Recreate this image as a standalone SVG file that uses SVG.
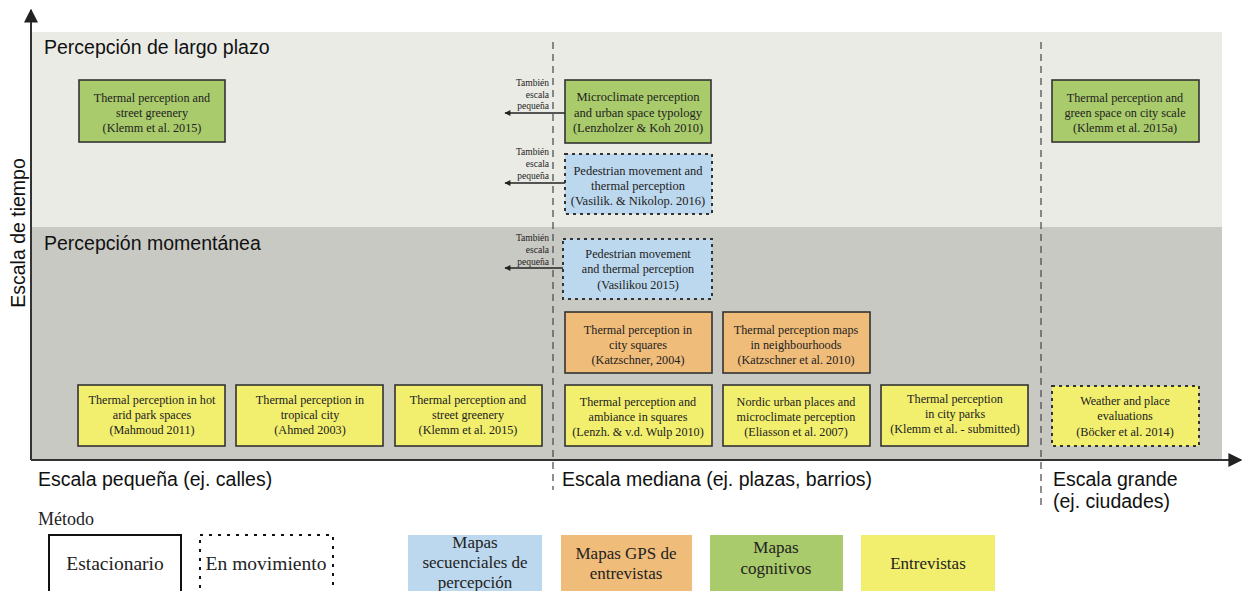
<svg xmlns="http://www.w3.org/2000/svg" width="1247" height="591" viewBox="0 0 1247 591">
<style>
.bx{stroke:#333;stroke-width:1.6}
.dsh{stroke:#333;stroke-width:2;stroke-dasharray:3 4}
.g{fill:#a9cb6b}.b{fill:#bcd8ee}.o{fill:#f0bc7a}.y{fill:#f2ef6e}
.t{font-family:"Liberation Serif","Times New Roman",serif;fill:#222;text-anchor:middle}
.s{font-size:12.2px}.m{font-size:12.5px}
.h{font-family:"Liberation Sans",Arial,sans-serif;fill:#111;font-size:19.5px}
.tb{font-family:"Liberation Serif","Times New Roman",serif;fill:#222;font-size:9.5px;text-anchor:end}
.lg{font-family:"Liberation Serif","Times New Roman",serif;fill:#222;font-size:17px;text-anchor:middle}
.ax{stroke:#333;stroke-width:2;fill:none}
.vd{stroke:#444;stroke-width:1.2;stroke-dasharray:7 5;fill:none}
.ar{stroke:#222;stroke-width:1.3;fill:none}
</style>
<defs>
<marker id="ah" viewBox="0 0 10 10" refX="9" refY="5" markerWidth="14" markerHeight="14" markerUnits="userSpaceOnUse" orient="auto"><path d="M0,0 L10,5 L0,10 z" fill="#222"/></marker>
<marker id="sh" viewBox="0 0 10 10" refX="9" refY="5" markerWidth="7" markerHeight="6" markerUnits="userSpaceOnUse" orient="auto"><path d="M0,0 L10,5 L0,10 z" fill="#222"/></marker>
</defs>
<rect width="1247" height="591" fill="#fff"/>
<g id="bands">
<rect x="31" y="32" width="1191" height="195" fill="#ebebe6"/>
<rect x="31" y="227" width="1191" height="233" fill="#c9c9c4"/>
<text class="h" x="44" y="54">Percepción de largo plazo</text>
<text class="h" x="44" y="250">Percepción momentánea</text>
</g>
<g id="axes">
<line class="vd" x1="553" y1="42" x2="553" y2="490"/>
<line class="vd" x1="1041" y1="42" x2="1041" y2="508"/>
<line class="ax" x1="31" y1="460" x2="31" y2="10" marker-end="url(#ah)"/>
<line class="ax" x1="31" y1="460" x2="1241" y2="460" marker-end="url(#ah)"/>
<text class="h" transform="translate(25,233) rotate(-90)" text-anchor="middle">Escala de tiempo</text>
<text class="h" x="38" y="486">Escala pequeña (ej. calles)</text>
<text class="h" x="562" y="486">Escala mediana (ej. plazas, barrios)</text>
<text class="h" x="1053" y="486">Escala grande</text>
<text class="h" x="1053" y="508">(ej. ciudades)</text>
</g>
<g id="connectors">
<line class="ar" x1="565" y1="113" x2="505" y2="113" marker-end="url(#sh)"/>
<line class="ar" x1="565" y1="183" x2="505" y2="183" marker-end="url(#sh)"/>
<line class="ar" x1="563" y1="268" x2="505" y2="268" marker-end="url(#sh)"/>
<text class="tb" x="549" y="86">También</text><text class="tb" x="549" y="98">escala</text><text class="tb" x="549" y="109">pequeña</text>
<text class="tb" x="549" y="155">También</text><text class="tb" x="549" y="167">escala</text><text class="tb" x="549" y="179">pequeña</text>
<text class="tb" x="549" y="241">También</text><text class="tb" x="549" y="253">escala</text><text class="tb" x="549" y="265">pequeña</text>
</g>
<g id="n1"><rect class="bx g" x="79" y="80" width="146" height="62"/><text class="t s" x="152" y="102">Thermal perception and</text><text class="t s" x="152" y="117">street greenery</text><text class="t s" x="152" y="132">(Klemm et al. 2015)</text></g>
<g id="n2"><rect class="bx g" x="565" y="80" width="146" height="63"/><text class="t m" x="638" y="101">Microclimate perception</text><text class="t m" x="638" y="117">and urban space typology</text><text class="t m" x="638" y="132">(Lenzholzer &amp; Koh 2010)</text></g>
<g id="n3"><rect class="dsh b" x="565" y="154" width="147" height="60"/><text class="t m" x="638" y="175">Pedestrian movement and</text><text class="t m" x="638" y="190">thermal perception</text><text class="t m" x="638" y="205">(Vasilik. &amp; Nikolop. 2016)</text></g>
<g id="n4"><rect class="bx g" x="1052" y="80" width="147" height="62"/><text class="t s" x="1125" y="102">Thermal perception and</text><text class="t s" x="1125" y="117">green space on city scale</text><text class="t s" x="1125" y="132">(Klemm et al. 2015a)</text></g>
<g id="n5"><rect class="dsh b" x="563" y="239" width="149" height="60"/><text class="t s" x="638" y="258">Pedestrian movement</text><text class="t s" x="638" y="273">and  thermal perception</text><text class="t s" x="638" y="289">(Vasilikou 2015)</text></g>
<g id="n6"><rect class="bx o" x="565" y="312" width="147" height="61"/><text class="t s" x="638" y="334">Thermal perception in</text><text class="t s" x="638" y="349">city squares</text><text class="t s" x="638" y="364">(Katzschner, 2004)</text></g>
<g id="n7"><rect class="bx o" x="723" y="312" width="147" height="61"/><text class="t s" x="796" y="334">Thermal perception maps</text><text class="t s" x="796" y="349">in neighbourhoods</text><text class="t s" x="796" y="364">(Katzschner et al. 2010)</text></g>
<g id="n8"><rect class="bx y" x="78" y="385" width="147" height="61"/><text class="t s" x="152" y="404">Thermal perception in hot</text><text class="t s" x="152" y="419">arid park spaces</text><text class="t s" x="152" y="434">(Mahmoud 2011)</text></g>
<g id="n9"><rect class="bx y" x="236" y="385" width="147" height="61"/><text class="t s" x="310" y="404">Thermal perception in</text><text class="t s" x="310" y="419">tropical city</text><text class="t s" x="310" y="434">(Ahmed 2003)</text></g>
<g id="n10"><rect class="bx y" x="395" y="385" width="147" height="61"/><text class="t s" x="468" y="404">Thermal perception and</text><text class="t s" x="468" y="419">street greenery</text><text class="t s" x="468" y="434">(Klemm et al. 2015)</text></g>
<g id="n11"><rect class="bx y" x="565" y="385" width="147" height="61"/><text class="t s" x="638" y="406">Thermal perception and</text><text class="t s" x="638" y="421">ambiance in squares</text><text class="t s" x="638" y="436">(Lenzh. &amp; v.d. Wulp 2010)</text></g>
<g id="n12"><rect class="bx y" x="723" y="385" width="147" height="61"/><text class="t s" x="796" y="406">Nordic urban places and</text><text class="t s" x="796" y="421">microclimate perception</text><text class="t s" x="796" y="436">(Eliasson et al. 2007)</text></g>
<g id="n13"><rect class="bx y" x="881" y="385" width="147" height="61"/><text class="t s" x="955" y="403">Thermal perception</text><text class="t s" x="955" y="418">in city parks</text><text class="t s" x="955" y="433">(Klemm et al. - submitted)</text></g>
<g id="n14"><rect class="dsh y" x="1052" y="386" width="147" height="60"/><text class="t s" x="1125" y="405">Weather and place</text><text class="t s" x="1125" y="420">evaluations</text><text class="t s" x="1125" y="436">(Böcker et al. 2014)</text></g>
<g id="legend">
<text class="lg" x="38" y="525" style="text-anchor:start;font-size:18px">Método</text>
<rect x="49" y="535" width="132" height="60" fill="#fff" stroke="#111" stroke-width="2"/>
<text class="lg" x="115" y="570" style="font-size:19.5px">Estacionario</text>
<rect x="200" y="535" width="133" height="60" fill="#fff" stroke="#111" stroke-width="2" stroke-dasharray="3 6"/>
<text class="lg" x="266" y="570" style="font-size:19.5px">En movimiento</text>
<rect x="408" y="535" width="134" height="60" fill="#bcd8ee"/>
<text class="lg" x="475" y="548">Mapas</text><text class="lg" x="475" y="568">secuenciales de</text><text class="lg" x="475" y="588">percepción</text>
<rect x="561" y="535" width="131" height="60" fill="#f0bc7a"/>
<text class="lg" x="626" y="559">Mapas GPS de</text><text class="lg" x="626" y="579">entrevistas</text>
<rect x="710" y="535" width="133" height="60" fill="#a9cb6b"/>
<text class="lg" x="776" y="553">Mapas</text><text class="lg" x="776" y="574">cognitivos</text>
<rect x="861" y="535" width="134" height="60" fill="#f2ef6e"/>
<text class="lg" x="928" y="569">Entrevistas</text>
</g>
</svg>
